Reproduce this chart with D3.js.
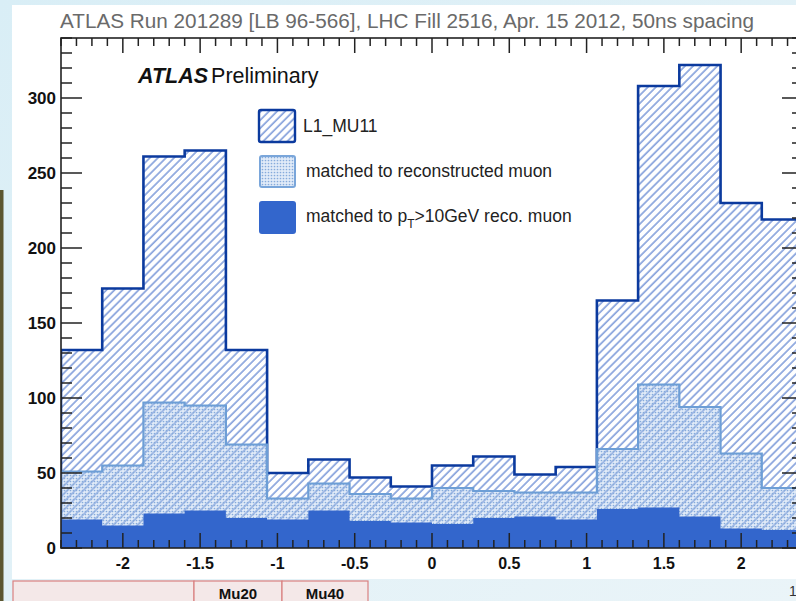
<!DOCTYPE html>
<html>
<head>
<meta charset="utf-8">
<script src="https://cdn.jsdelivr.net/npm/d3@7"></script>
<style>
  html, body { margin: 0; padding: 0; }
  body { width: 796px; height: 601px; overflow: hidden; background: #e4f1f7; }
  svg text { font-family: "Liberation Sans", Arial, sans-serif; }
</style>
</head>
<body>
<svg id="chart" width="796" height="601"></svg>
<script>
'use strict';

// eta bin edges (18 bins from -2.4 to 2.4)
var binEdges = [-2.4, -2.1333, -1.8667, -1.6, -1.3333, -1.0667, -0.8, -0.5333, -0.2667, 0,
  0.2667, 0.5333, 0.8, 1.0667, 1.3333, 1.6, 1.8667, 2.1333, 2.4];

// L1_MU11 RoIs per bin
var l1Counts = [132, 173, 261, 265, 132, 50, 59, 47, 41, 55, 61, 49, 54, 165, 308, 322, 230, 219];
// matched to reconstructed muon
var matchedCounts = [51, 55, 97, 95, 69, 33, 43, 36, 33, 40, 38, 37, 37, 66, 109, 94, 63, 40];
// matched to pT>10GeV reco muon
var pt10Counts = [19, 15, 23, 25, 20, 19, 25, 18, 17, 16, 20, 21, 19, 26, 27, 21, 13, 12];

var xTickValues = [-2, -1.5, -1, -0.5, 0, 0.5, 1, 1.5, 2];
var yTickValues = [0, 50, 100, 150, 200, 250, 300];

var titleText = 'ATLAS Run 201289 [LB 96-566], LHC Fill 2516, Apr. 15 2012, 50ns spacing';

var svg = d3.select('#chart');

var plotLeft = 61, plotRight = 803, plotTop = 38, plotBottom = 548;

var x = d3.scaleLinear().domain([-2.4, 2.4]).range([plotLeft, plotRight]);
var y = d3.scaleLinear().domain([0, 340]).range([plotBottom, plotTop]);

var defs = svg.append('defs');

// background of the slide
var bg = defs.append('linearGradient').attr('id', 'slidebg')
  .attr('x1', 0).attr('y1', 0).attr('x2', 1).attr('y2', 1);
bg.append('stop').attr('offset', '0%').attr('stop-color', '#d9eef6');
bg.append('stop').attr('offset', '100%').attr('stop-color', '#eaf4f8');

// hatch pattern for L1_MU11
var hatch = defs.append('pattern').attr('id', 'hatch')
  .attr('patternUnits', 'userSpaceOnUse')
  .attr('width', 5.7).attr('height', 10)
  .attr('patternTransform', 'rotate(45)');
hatch.append('line')
  .attr('x1', 1).attr('y1', 0).attr('x2', 1).attr('y2', 10)
  .attr('stroke', '#3563c4').attr('stroke-width', 1);

// dotted pattern for matched muons
var dots = defs.append('pattern').attr('id', 'dots')
  .attr('patternUnits', 'userSpaceOnUse')
  .attr('width', 3).attr('height', 3);
dots.append('rect').attr('width', 3).attr('height', 3).attr('fill', 'rgba(180,205,238,0.4)');
dots.append('circle').attr('cx', 1.5).attr('cy', 1.5).attr('r', 0.85).attr('fill', '#86abdb');

defs.append('clipPath').attr('id', 'plotclip')
  .append('rect').attr('x', plotLeft).attr('y', plotTop)
  .attr('width', plotRight - plotLeft).attr('height', plotBottom - plotTop);

// slide background, white panel, olive strip
svg.append('rect').attr('width', 796).attr('height', 601).attr('fill', 'url(#slidebg)');
svg.append('rect').attr('x', 0).attr('y', 190).attr('width', 3.5).attr('height', 411).attr('fill', '#5b5630');
svg.append('rect').attr('x', 12).attr('y', 5).attr('width', 784).attr('height', 574).attr('fill', '#ffffff');

// title
svg.append('text')
  .attr('x', 60).attr('y', 28)
  .attr('font-size', 20.5)
  .attr('textLength', 694)
  .attr('lengthAdjust', 'spacingAndGlyphs')
  .attr('fill', '#6a6a6a')
  .text(titleText);

// build step points for a histogram
function stepPoints(values) {
  var pts = [];
  values.forEach(function(v, i) {
    pts.push([binEdges[i], v]);
    pts.push([binEdges[i + 1], v]);
  });
  return pts;
}

var area = d3.area()
  .x(function(d) { return x(d[0]); })
  .y0(y(0))
  .y1(function(d) { return y(d[1]); });

var outline = d3.line()
  .x(function(d) { return x(d[0]); })
  .y(function(d) { return y(d[1]); });

function outlinePoints(values) {
  var pts = stepPoints(values);
  return [[binEdges[0], 0]].concat(pts, [[binEdges[binEdges.length - 1], 0]]);
}

var plot = svg.append('g').attr('clip-path', 'url(#plotclip)');

// L1_MU11
plot.append('path')
  .attr('d', area(stepPoints(l1Counts)))
  .attr('fill', 'url(#hatch)');
plot.append('path')
  .attr('d', outline(outlinePoints(l1Counts)))
  .attr('fill', 'none').attr('stroke', '#0b3a9e').attr('stroke-width', 2.6);

// matched to reconstructed muon
plot.append('path')
  .attr('d', area(stepPoints(matchedCounts)))
  .attr('fill', 'url(#dots)');
plot.append('path')
  .attr('d', outline(outlinePoints(matchedCounts)))
  .attr('fill', 'none').attr('stroke', '#6d9ed6').attr('stroke-width', 2.2);

// matched to pT>10GeV reco muon
plot.append('path')
  .attr('d', area(stepPoints(pt10Counts)))
  .attr('fill', '#3366cc');

// frame
svg.append('rect')
  .attr('x', plotLeft).attr('y', plotTop)
  .attr('width', plotRight - plotLeft).attr('height', plotBottom - plotTop)
  .attr('fill', 'none').attr('stroke', '#222').attr('stroke-width', 1.6);

// x axis ticks (bottom and top)
var xMinor = d3.range(-24, 25).map(function(k) { return k / 10; });
var axisG = svg.append('g').attr('stroke', '#222').attr('stroke-width', 1.5);
xMinor.forEach(function(v) {
  var major = Math.abs(Math.round(v * 10) % 5) === 0;
  var len = major ? 15 : 8;
  axisG.append('line')
    .attr('x1', x(v)).attr('x2', x(v))
    .attr('y1', plotBottom).attr('y2', plotBottom - len);
  axisG.append('line')
    .attr('x1', x(v)).attr('x2', x(v))
    .attr('y1', plotTop).attr('y2', plotTop + len);
});

// y axis ticks (left and right)
var yMinor = d3.range(0, 341, 10);
yMinor.forEach(function(v) {
  var major = v % 50 === 0;
  var len = major ? 21 : 11;
  axisG.append('line')
    .attr('x1', plotLeft).attr('x2', plotLeft + len)
    .attr('y1', y(v)).attr('y2', y(v));
  axisG.append('line')
    .attr('x1', plotRight).attr('x2', plotRight - len)
    .attr('y1', y(v)).attr('y2', y(v));
});

// tick labels
svg.append('g').selectAll('text')
  .data(xTickValues)
  .join('text')
  .attr('x', function(d) { return x(d); })
  .attr('y', 569)
  .attr('text-anchor', 'middle')
  .attr('font-size', 16)
  .attr('font-weight', 'bold')
  .attr('fill', '#111')
  .text(function(d) { return d; });

svg.append('g').selectAll('text')
  .data(yTickValues)
  .join('text')
  .attr('x', 56)
  .attr('y', function(d) { return y(d) + 6; })
  .attr('text-anchor', 'end')
  .attr('font-size', 17)
  .attr('font-weight', 'bold')
  .attr('fill', '#111')
  .text(function(d) { return d; });

// ATLAS Preliminary
var atlas = svg.append('text').attr('x', 138).attr('y', 83).attr('font-size', 21.5).attr('fill', '#111');
atlas.append('tspan').attr('font-weight', 'bold').attr('font-style', 'italic').text('ATLAS');
atlas.append('tspan').attr('dx', 3).text('Preliminary');

// legend
var legend = svg.append('g');
legend.append('rect')
  .attr('x', 259).attr('y', 110).attr('width', 36).attr('height', 32)
  .attr('fill', 'url(#hatch)').attr('stroke', '#0b3a9e').attr('stroke-width', 2.4).attr('rx', 2);
legend.append('text').attr('x', 303).attr('y', 132).attr('font-size', 17.5).attr('fill', '#222').text('L1_MU11');

legend.append('rect')
  .attr('x', 260).attr('y', 156).attr('width', 35).attr('height', 31)
  .attr('fill', 'url(#dots)').attr('stroke', '#7aa6da').attr('stroke-width', 2).attr('rx', 2);
legend.append('text').attr('x', 306).attr('y', 177).attr('font-size', 17.5).attr('fill', '#222')
  .text('matched to reconstructed muon');

legend.append('rect')
  .attr('x', 259).attr('y', 201).attr('width', 37).attr('height', 33)
  .attr('fill', '#3366cc').attr('rx', 3);
var lt = legend.append('text').attr('x', 306).attr('y', 222).attr('font-size', 17.5).attr('fill', '#222');
lt.append('tspan').text('matched to p');
lt.append('tspan').attr('dy', 6).attr('font-size', 12).text('T');
lt.append('tspan').attr('dy', -6).text('>10GeV reco. muon');

// bits of the slide table below the plot
var table = svg.append('g');
[[13, 194], [194, 282], [282, 368]].forEach(function(c) {
  table.append('rect')
    .attr('x', c[0]).attr('y', 581).attr('width', c[1] - c[0]).attr('height', 30)
    .attr('fill', '#f4e8e8').attr('stroke', '#d98080').attr('stroke-width', 1.2);
});
table.append('text').attr('x', 238).attr('y', 599).attr('text-anchor', 'middle')
  .attr('font-size', 15).attr('font-weight', 'bold').attr('fill', '#111').text('Mu20');
table.append('text').attr('x', 325).attr('y', 599).attr('text-anchor', 'middle')
  .attr('font-size', 15).attr('font-weight', 'bold').attr('fill', '#111').text('Mu40');
svg.append('text').attr('x', 789).attr('y', 596).attr('font-size', 14).attr('fill', '#333').text('1');
</script>
</body>
</html>
